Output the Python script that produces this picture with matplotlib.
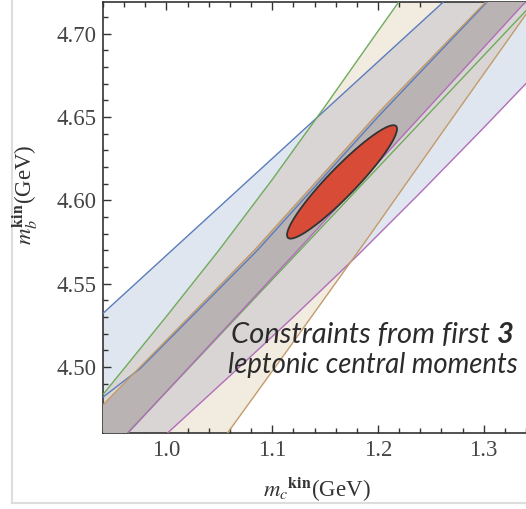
import numpy as np
import matplotlib
matplotlib.use("Agg")
import matplotlib.pyplot as plt
from matplotlib.lines import Line2D

plt.rcParams['font.family'] = ['Liberation Serif', 'DejaVu Serif']
plt.rcParams['mathtext.fontset'] = 'stix'

# band boundaries: (m_c, m_b) in GeV
blue_up_x = [0.93, 1.262, 1.34]
blue_up_y = [4.5264, 4.719, 4.764]
purple_low_x = [0.93, 1.002, 1.06, 1.12, 1.18, 1.24, 1.30, 1.34]
purple_low_y = [4.419, 4.461, 4.4947, 4.530, 4.5665, 4.6045, 4.6435, 4.670]

green_steep_x = [0.93, 0.938, 1.0, 1.05, 1.1, 1.15, 1.2, 1.25, 1.34]
green_steep_y = [4.4758, 4.482, 4.5304, 4.5704, 4.6124, 4.6564, 4.7014, 4.746, 4.83]
tan_steep_x = [0.93, 1.0584, 1.12, 1.19, 1.26, 1.335, 1.34]
tan_steep_y = [4.3485, 4.461, 4.515, 4.577, 4.640, 4.707, 4.7115]

tan_med_x = [0.93, 0.938, 1.0836, 1.2019, 1.302, 1.34]
tan_med_y = [4.471, 4.476, 4.5704, 4.6535, 4.719, 4.744]
blue_low_x = [0.93, 0.938, 0.975, 1.086, 1.2, 1.31, 1.34]
blue_low_y = [4.477, 4.481, 4.499, 4.570, 4.650, 4.7235, 4.743]
purple_med_x = [0.93, 1.127, 1.336, 1.34]
purple_med_y = [4.4375, 4.572, 4.7165, 4.719]
green_med_x = [0.93, 0.964, 1.336, 1.34]
green_med_y = [4.438, 4.461, 4.711, 4.7137]

# fit result
mc_fit, mb_fit = 1.166, 4.611
sig_mc, sig_mb, rho = 0.052, 0.034, 0.935

c_blue = '#5b7cbc'
c_green = '#6fab5e'
c_tan = '#c39b6b'
c_purple = '#b26db9'

fig = plt.figure(figsize=(5.26, 5.09), dpi=100)
ax = fig.add_axes([0.1949, 0.1499, 0.8051, 0.8462])
ax.set_xlim(0.9395, 1.3338)
ax.set_ylim(4.4606, 4.7189)

xg = np.linspace(0.93, 1.34, 1500)
def f(xs, ys):
    return np.interp(xg, xs, ys)

bu, pl = f(blue_up_x, blue_up_y), f(purple_low_x, purple_low_y)
gs, ts = f(green_steep_x, green_steep_y), f(tan_steep_x, tan_steep_y)
tm = f(tan_med_x, tan_med_y)
zl = np.maximum(f(purple_med_x, purple_med_y), f(green_med_x, green_med_y))

ax.fill_between(xg, pl, bu, where=bu > pl, color='#dfe6ef', lw=0, zorder=1)
ax.fill_between(xg, ts, gs, where=gs > ts, color='#f1ebe0', lw=0, zorder=1)
lo, hi = np.maximum(pl, ts), np.minimum(bu, gs)
ax.fill_between(xg, lo, hi, where=hi > lo, color='#d9d5d4', lw=0, zorder=2)
ax.fill_between(xg, zl, tm, where=tm > zl, color='#b9b4b3', lw=0, zorder=3)

for xs, ys, c in [(blue_up_x, blue_up_y, c_blue), (purple_low_x, purple_low_y, c_purple),
                  (green_steep_x, green_steep_y, c_green), (tan_steep_x, tan_steep_y, c_tan),
                  (green_med_x, green_med_y, c_green), (purple_med_x, purple_med_y, c_purple),
                  (blue_low_x, blue_low_y, c_blue), (tan_med_x, tan_med_y, c_tan)]:
    ax.plot(xs, ys, color=c, lw=1.0, zorder=4)

t = np.linspace(0, 2 * np.pi, 300)
ex = mc_fit + sig_mc * np.cos(t)
ey = mb_fit + sig_mb * (rho * np.cos(t) + np.sqrt(1 - rho**2) * np.sin(t))
ax.fill(ex, ey, facecolor='#d84b37', edgecolor='#333333', lw=1.3, zorder=5)

note_font = dict(family=['Lato', 'DejaVu Sans'], style='italic', color='#2b2b2b', zorder=6)
t1 = ax.text(1.0612, 4.5142, 'Constraints from first ', fontsize=21, **note_font)
ax.annotate('3', xy=(1, 0), xycoords=t1, va='bottom', ha='left', fontweight='bold',
            fontsize=21, **note_font)
ax.text(1.0585, 4.4962, 'leptonic central moments', fontsize=19.8, clip_on=False,
        **note_font)

ax.set_xticks([1.0, 1.1, 1.2, 1.3])
ax.set_xticks(np.arange(0.94, 1.34, 0.02), minor=True)
ax.set_yticks([4.50, 4.55, 4.60, 4.65, 4.70])
ax.set_yticks(np.arange(4.47, 4.72, 0.01), minor=True)
ax.set_xticklabels(['1.0', '1.1', '1.2', '1.3'])
ax.set_yticklabels(['4.50', '4.55', '4.60', '4.65', '4.70'])
ax.tick_params(which='both', direction='in', top=True, right=False, color='#333333',
               width=1.0, labelsize=16.5, labelcolor='#444444')
ax.tick_params(which='major', length=6)
ax.tick_params(which='minor', length=3.5)
ax.tick_params(axis='x', pad=5)
ax.tick_params(axis='y', pad=4)
ax.spines['right'].set_visible(False)
for s in ['left', 'bottom', 'top']:
    ax.spines[s].set_color('#333333')
    ax.spines[s].set_linewidth(1.2)

fig.text(317 / 526, 1 - 490 / 509, r'$m_c{}^{\mathbf{kin}}$(GeV)', fontsize=16.5,
         ha='center', va='center', color='#333333')
fig.text(25 / 526, 1 - 195 / 509, r'$m_b^{\mathbf{kin}}$(GeV)', fontsize=16.5,
         ha='center', va='center', rotation=90, color='#333333')

fig.add_artist(Line2D([12 / 526, 12 / 526], [1 - 503 / 509, 1], color='#dddddd', lw=1.5))
fig.add_artist(Line2D([12 / 526, 1], [1 - 503 / 509, 1 - 503 / 509], color='#dddddd', lw=1.5))

fig.savefig('out.png', dpi=100)
